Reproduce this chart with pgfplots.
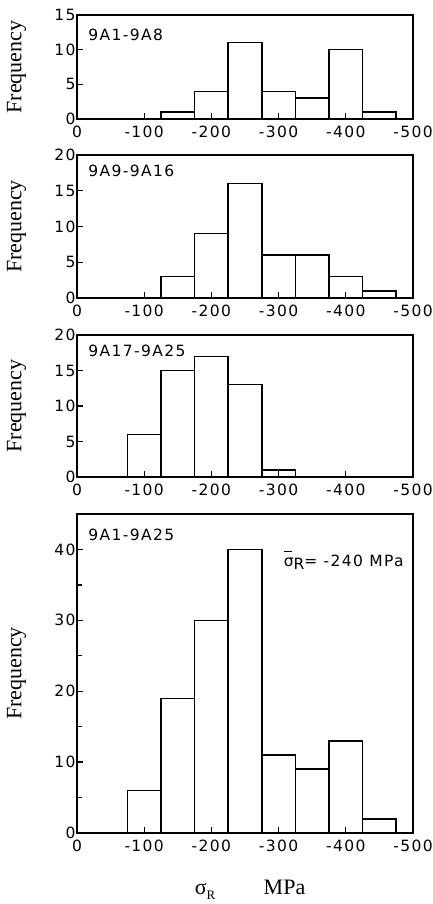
\documentclass[border=0pt]{standalone}
\usepackage{fontspec}
\setmainfont{Liberation Serif}
\newfontfamily\lett[LetterSpace=9]{DejaVu Sans}
\usepackage{pgfplots}
\pgfplotsset{compat=1.18}

% common look of the four histograms
\pgfplotsset{hist/.style={
  scale only axis, width=336pt,
  xmin=-500, xmax=0, x dir=reverse, ymin=0,
  xtick={0,-100,-200,-300,-400,-500},
  xticklabels={0,-100,-200,-300,-400,-500},
  xtick pos=bottom, ytick pos=left, tick align=inside,
  major tick length=6pt, minor tick length=5pt,
  tick style={line width=1.3pt, black},
  axis line style={line width=1.5pt},
  ticklabel style={font=\lett\fontsize{15.5}{15}\selectfont},
  xticklabel style={yshift=-3pt},
  yticklabel style={xshift=2pt},
  /pgf/number format/assume math mode=true,
  ylabel={Frequency},
  ylabel style={at={(axis description cs:-0.18,0.5)}, anchor=center,
                font=\fontsize{22}{24}\selectfont},
  anchor=north west,
}}
\pgfplotsset{bars/.style={ybar, bar width=50, bar shift=0pt,
  draw=black, fill=none, line width=1.5pt}}

\begin{document}
\begin{tikzpicture}
\path[use as bounding box] (0,0) rectangle (432pt,-904pt);

\begin{axis}[hist, at={(77pt,-15pt)}, height=104pt, ymax=15, ytick={0,5,10,15}]
\addplot[bars] coordinates {(-150,1) (-200,4) (-250,11) (-300,4) (-350,3) (-400,10) (-450,1)};
\node[anchor=north west, inner sep=0pt, font=\lett\fontsize{15.5}{15}\selectfont]
  at (rel axis cs:0.033,0.87) {9A1-9A8};
\end{axis}

\begin{axis}[hist, at={(77pt,-155pt)}, height=143pt, ymax=20, ytick={0,5,10,15,20}]
\addplot[bars] coordinates {(-150,3) (-200,9) (-250,16) (-300,6) (-350,6) (-400,3) (-450,1)};
\node[anchor=north west, inner sep=0pt, font=\lett\fontsize{15.5}{15}\selectfont]
  at (rel axis cs:0.033,0.93) {9A9-9A16};
\end{axis}

\begin{axis}[hist, at={(77pt,-335pt)}, height=142pt, ymax=20, ytick={0,5,10,15,20}]
\addplot[bars] coordinates {(-100,6) (-150,15) (-200,17) (-250,13) (-300,1)};
\node[anchor=north west, inner sep=0pt, font=\lett\fontsize{15.5}{15}\selectfont]
  at (rel axis cs:0.033,0.93) {9A17-9A25};
\end{axis}

\begin{axis}[hist, at={(77pt,-514pt)}, height=319pt, ymax=45,
  ytick={0,10,20,30,40}, minor ytick={5,15,25,35},
  xlabel={σ\raisebox{-0.4ex}{\fontsize{13}{13}\selectfont R}\hspace{2.2em}MPa},
  xlabel style={at={(axis description cs:0.515,-0.178)}, anchor=center,
                font=\fontsize{22}{24}\selectfont}]
\addplot[bars] coordinates {(-100,6) (-150,19) (-200,30) (-250,40) (-300,11) (-350,9) (-400,13) (-450,2)};
\node[anchor=north west, inner sep=0pt, font=\lett\fontsize{15.5}{15}\selectfont]
  at (rel axis cs:0.033,0.955) {9A1-9A25};
\node[anchor=west, inner sep=0pt, font=\lett\fontsize{15.5}{15}\selectfont]
  at (rel axis cs:0.615,0.855)
  {\makebox[0pt][l]{\raisebox{0.95em}{\rule{0.55em}{0.9pt}}}σ\raisebox{-0.45ex}{R}= -240 MPa};
\end{axis}
\end{tikzpicture}
\end{document}
